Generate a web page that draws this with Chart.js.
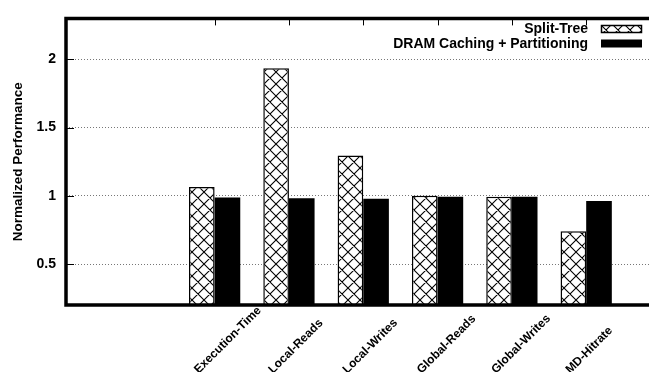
<!DOCTYPE html>
<html lang="en">

<head>
    <meta charset="UTF-8">
    <meta name="viewport" content="width=device-width, initial-scale=1.0">
    <title>Normalized Performance</title>
    <script src="https://cdn.jsdelivr.net/npm/chart.js@4.4.0/dist/chart.umd.min.js"></script>
    <style>
        html, body { margin: 0; padding: 0; overflow: hidden; background: #fff; }
        #wrap { width: 680px; height: 372px; }
    </style>
</head>

<body>
    <div id="wrap">
        <canvas id="myChart" width="680" height="372"></canvas>
    </div>

    <script>
        // two empty slots on the left and one on the right, like the original plot range
        const categories = ['', '', 'Execution-Time', 'Local-Reads', 'Local-Writes', 'Global-Reads', 'Global-Writes', 'MD-Hitrate', ''];
        const splitTree = [null, null, 1.065, 1.935, 1.295, 1.0, 0.993, 0.74, null];
        const dramCaching = [null, null, 0.988, 0.983, 0.978, 0.993, 0.993, 0.962, null];
        const yTicks = [0.5, 1, 1.5, 2];
        const seriesNames = ['Split-Tree', 'DRAM Caching + Partitioning'];

        const FONT = "'Liberation Sans', Arial, Helvetica, sans-serif";

        function makeHatch(size) {
            const c = document.createElement('canvas');
            c.width = size; c.height = size;
            const g = c.getContext('2d');
            g.fillStyle = '#fff';
            g.fillRect(0, 0, size, size);
            g.strokeStyle = '#000';
            g.lineWidth = 1.1;
            g.beginPath();
            for (const o of [-size, 0, size]) {
                g.moveTo(o, 0); g.lineTo(o + size, size);
                g.moveTo(o + size, 0); g.lineTo(o, size);
            }
            g.stroke();
            return g.createPattern(c, 'repeat');
        }
        const hatch = makeHatch(12);

        // frame, ticks, rotated labels and key, drawn like gnuplot does
        const gnuplotBits = {
            id: 'gnuplotBits',
            afterDraw(chart) {
                const ctx = chart.ctx;
                const area = chart.chartArea;
                const xs = chart.scales.x;
                const ys = chart.scales.y;
                ctx.save();

                // small inward tics
                ctx.strokeStyle = '#000';
                ctx.lineWidth = 1;
                ctx.beginPath();
                yTicks.forEach(v => {
                    const y = Math.round(ys.getPixelForValue(v)) + 0.5;
                    ctx.moveTo(area.left, y);
                    ctx.lineTo(area.left + 8, y);
                });
                categories.forEach((c, i) => {
                    if (!c) return;
                    const x = Math.round(xs.getPixelForValue(i)) + 0.5;
                    ctx.moveTo(x, area.top);
                    ctx.lineTo(x, area.top + 7);
                });
                ctx.stroke();

                // thick border
                ctx.lineWidth = 3.5;
                ctx.beginPath();
                ctx.moveTo(chart.width, area.top);
                ctx.lineTo(area.left, area.top);
                ctx.lineTo(area.left, area.bottom);
                ctx.lineTo(chart.width, area.bottom);
                ctx.stroke();

                // rotated category labels
                ctx.fillStyle = '#000';
                ctx.font = 'bold 12px ' + FONT;
                ctx.textAlign = 'left';
                ctx.textBaseline = 'alphabetic';
                categories.forEach((c, i) => {
                    if (!c) return;
                    const x = xs.getPixelForValue(i);
                    ctx.save();
                    ctx.translate(x - 16, area.bottom + 69);
                    ctx.rotate(-Math.PI / 4);
                    ctx.fillText(c, 0, 0);
                    ctx.restore();
                });

                // key, top right inside the plot
                ctx.font = 'bold 14px ' + FONT;
                ctx.textAlign = 'right';
                const keyRows = [{ y: 33 }, { y: 47.5 }];
                chart.data.datasets.forEach((ds, i) => {
                    const by = keyRows[i].y;
                    ctx.fillStyle = '#000';
                    ctx.fillText(ds.label, 588, by);
                    ctx.fillStyle = ds.backgroundColor;
                    ctx.fillRect(601, by - 8, 41, 8);
                    if (ds.borderWidth) {
                        ctx.lineWidth = 1.5;
                        ctx.strokeRect(601.5, by - 7.5, 40, 7);
                    }
                });

                ctx.restore();
            }
        };

        const ctx = document.getElementById('myChart').getContext('2d');
        new Chart(ctx, {
            type: 'bar',
            data: {
                labels: categories,
                datasets: [{
                    label: seriesNames[0],
                    data: splitTree,
                    backgroundColor: hatch,
                    borderColor: '#000',
                    borderWidth: 1.5
                }, {
                    label: seriesNames[1],
                    data: dramCaching,
                    backgroundColor: '#000',
                    borderWidth: 0
                }]
            },
            options: {
                responsive: false,
                animation: false,
                layout: { padding: { top: 15, right: 19.5, left: 0, bottom: 0 } },
                datasets: {
                    bar: { categoryPercentage: 0.69, barPercentage: 1.0 }
                },
                plugins: {
                    legend: { display: false },
                    tooltip: { enabled: false }
                },
                scales: {
                    x: {
                        offset: false,
                        grid: { display: false, offset: false },
                        border: { display: false },
                        ticks: { display: false },
                        afterFit: s => { s.height = 67; }
                    },
                    y: {
                        min: 0.2,
                        max: 2.3,
                        afterBuildTicks: s => { s.ticks = yTicks.map(v => ({ value: v })); },
                        grid: { color: '#777', lineWidth: 1, drawTicks: false },
                        border: { display: false, dash: [1, 2] },
                        ticks: {
                            color: '#000',
                            padding: 10,
                            font: { family: FONT, size: 14, weight: 'bold' },
                            callback: v => String(v)
                        },
                        title: {
                            display: true,
                            text: 'Normalized Performance',
                            color: '#000',
                            font: { family: FONT, size: 13.5, weight: 'bold' },
                            padding: { top: 10, bottom: 0 }
                        },
                        afterFit: s => { s.width = 66; }
                    }
                }
            },
            plugins: [gnuplotBits]
        });
    </script>
</body>

</html>
